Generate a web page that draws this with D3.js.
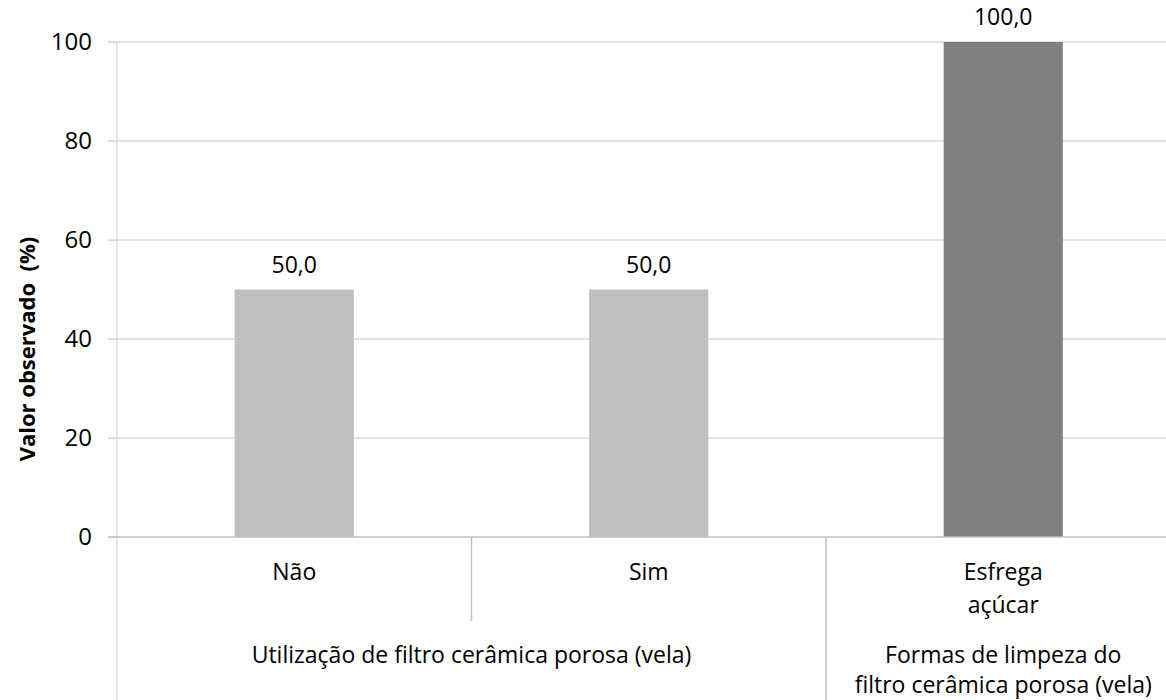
<!DOCTYPE html>
<html>
<head>
<meta charset="utf-8">
<script src="https://cdn.jsdelivr.net/npm/d3@7"></script>
<style>
  body { margin: 0; background: #fff; }
  text { font-family: "Open Sans", sans-serif; fill: #000; }
</style>
</head>
<body>
<svg width="1166" height="700"></svg>
<script>
const categories = ["Não", "Sim", "Esfrega\naçúcar"];
const values = [50, 50, 100];
const barColors = ["#bfbfbf", "#bfbfbf", "#808080"];
const groups = [
  { label: "Utilização de filtro cerâmica porosa (vela)", first: 0, last: 1 },
  { label: "Formas de limpeza do\nfiltro cerâmica porosa (vela)", first: 2, last: 2 }
];
const yTicks = [0, 20, 40, 60, 80, 100];

const svg = d3.select("svg");
const plotLeft = 117, plotTop = 42, plotBottom = 537;
const step = 354.5;
const fontSize = "23px";

const x = d3.scaleBand()
  .domain(categories)
  .range([plotLeft, plotLeft + step * categories.length]);
const y = d3.scaleLinear().domain([0, 100]).range([plotBottom, plotTop]);
const barW = x.bandwidth() * 0.336;

// gridlines
svg.append("g")
  .selectAll("line")
  .data(yTicks.filter(d => d > 0))
  .enter().append("line")
  .attr("x1", plotLeft - 9).attr("x2", 1166)
  .attr("y1", d => y(d)).attr("y2", d => y(d))
  .attr("stroke", "#d9d9d9").attr("stroke-width", 1.3);

// y axis labels
const yAxis = svg.append("g")
  .attr("transform", `translate(${plotLeft},0)`)
  .call(d3.axisLeft(y).tickValues(yTicks).tickSize(9).tickPadding(16));
yAxis.select(".domain").remove();
yAxis.selectAll(".tick line").attr("stroke", "#d9d9d9").attr("stroke-width", 1.3);
yAxis.selectAll(".tick text").style("font-size", "24px").style("font-family", "'Open Sans', sans-serif");

// vertical axis line extends through the label area
svg.append("line")
  .attr("x1", plotLeft).attr("x2", plotLeft)
  .attr("y1", plotTop).attr("y2", 700)
  .attr("stroke", "#d9d9d9").attr("stroke-width", 1.3);

// bars
svg.append("g")
  .selectAll("rect")
  .data(categories)
  .enter().append("rect")
  .attr("x", d => x(d) + (x.bandwidth() - barW) / 2)
  .attr("width", barW)
  .attr("y", (d, i) => y(values[i]))
  .attr("height", (d, i) => y(0) - y(values[i]))
  .attr("fill", (d, i) => barColors[i]);

// value labels
svg.append("g")
  .selectAll("text")
  .data(categories)
  .enter().append("text")
  .attr("x", d => x(d) + x.bandwidth() / 2)
  .attr("y", (d, i) => y(values[i]) - 17)
  .attr("text-anchor", "middle")
  .style("font-size", fontSize)
  .text((d, i) => d3.format(".1f")(values[i]).replace(".", ","));

// x axis baseline
svg.append("line")
  .attr("x1", plotLeft - 9).attr("x2", 1166)
  .attr("y1", plotBottom).attr("y2", plotBottom)
  .attr("stroke", "#bfbfbf").attr("stroke-width", 1.5);

// separator between categories inside a group
svg.append("line")
  .attr("x1", x(categories[1])).attr("x2", x(categories[1]))
  .attr("y1", plotBottom).attr("y2", 621)
  .attr("stroke", "#bfbfbf").attr("stroke-width", 1.5);

// separator between groups
svg.append("line")
  .attr("x1", x(categories[2])).attr("x2", x(categories[2]))
  .attr("y1", plotBottom).attr("y2", 700)
  .attr("stroke", "#bfbfbf").attr("stroke-width", 1.5);

// category labels
const catText = svg.append("g")
  .selectAll("text")
  .data(categories)
  .enter().append("text")
  .attr("text-anchor", "middle")
  .style("font-size", fontSize);
catText.each(function (d) {
  const t = d3.select(this);
  d.split("\n").forEach((line, k) => {
    t.append("tspan")
      .attr("x", x(d) + x.bandwidth() / 2)
      .attr("y", 580 + k * 33)
      .text(line);
  });
});

// group labels
const grpText = svg.append("g")
  .selectAll("text")
  .data(groups)
  .enter().append("text")
  .attr("text-anchor", "middle")
  .style("font-size", fontSize);
grpText.each(function (g) {
  const t = d3.select(this);
  const cx = (x(categories[g.first]) + x(categories[g.last]) + x.bandwidth()) / 2;
  g.label.split("\n").forEach((line, k) => {
    t.append("tspan")
      .attr("x", cx)
      .attr("y", 663 + k * 30)
      .text(line);
  });
});

// y axis title
svg.append("text")
  .attr("transform", "translate(35,349) rotate(-90)")
  .attr("text-anchor", "middle")
  .style("font-size", "22px")
  .style("font-weight", "bold")
  .style("white-space", "pre")
  .text("Valor observado  (%)");
</script>
</body>
</html>
